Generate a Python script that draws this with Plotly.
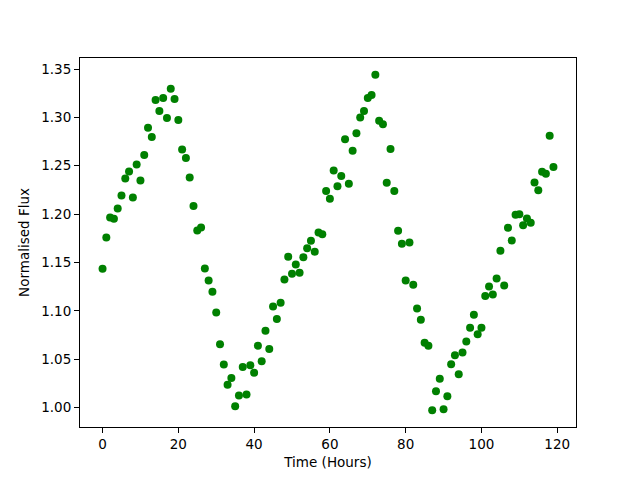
import plotly.graph_objects as go

hours = list(range(120))
flux = [
    1.1435, 1.1758, 1.1965, 1.1951, 1.2058, 1.2192, 1.2367, 1.2440, 1.2171, 1.2512,
    1.2347, 1.2612, 1.2894, 1.2798, 1.3180, 1.3066, 1.3200, 1.2994, 1.3297, 1.3190,
    1.2973, 1.2667, 1.2581, 1.2378, 1.2085, 1.1830, 1.1861, 1.1438, 1.1314, 1.1198,
    1.0984, 1.0654, 1.0444, 1.0237, 1.0306, 1.0013, 1.0124, 1.0419, 1.0134, 1.0437,
    1.0361, 1.0640, 1.0478, 1.0795, 1.0605, 1.1046, 1.0915, 1.1084, 1.1325, 1.1559,
    1.1383, 1.1479, 1.1394, 1.1555, 1.1648, 1.1724, 1.1611, 1.1810, 1.1792, 1.2240,
    1.2158, 1.2450, 1.2288, 1.2395, 1.2773, 1.2313, 1.2656, 1.2835, 1.3000, 1.3066,
    1.3200, 1.3231, 1.3441, 1.2966, 1.2930, 1.2323, 1.2674, 1.2240, 1.1827, 1.1693,
    1.1314, 1.1707, 1.1270, 1.1025, 1.0909, 1.0671, 1.0640, 0.9972, 1.0168, 1.0299,
    0.9982, 1.0117, 1.0447, 1.0540, 1.0344, 1.0568, 1.0684, 1.0826, 1.0960, 1.0757,
    1.0826, 1.1154, 1.1252, 1.1170, 1.1335, 1.1621, 1.1263, 1.1858, 1.1727, 1.1993,
    1.1999, 1.1885, 1.1954, 1.1910, 1.2326, 1.2247, 1.2437, 1.2416, 1.2811, 1.2488,
]
x_ticks = [0, 20, 40, 60, 80, 100, 120]
y_ticks = [1.00, 1.05, 1.10, 1.15, 1.20, 1.25, 1.30, 1.35]

fig = go.Figure(
    go.Scatter(
        x=hours, y=flux, mode="markers",
        marker=dict(color="#008000", size=8, line=dict(width=0)),
    )
)

axis_common = dict(
    showline=True, mirror=True, linecolor="black", linewidth=1,
    ticks="outside", ticklen=5, tickcolor="black", tickwidth=1,
    showgrid=False, zeroline=False,
    tickfont=dict(family="DejaVu Sans", size=13.5, color="black"),
)

fig.update_layout(
    width=632, height=472,
    margin=dict(l=72, r=64, t=50, b=53),
    paper_bgcolor="white", plot_bgcolor="white",
    showlegend=False,
    font=dict(family="DejaVu Sans", size=13.5, color="black"),
    xaxis=dict(
        range=[-5.95, 124.95], tickvals=x_ticks,
        title=dict(text="Time (Hours)", font=dict(size=13.5), standoff=6),
        **axis_common,
    ),
    yaxis=dict(
        range=[0.9799, 1.3614], tickvals=y_ticks, tickformat=".2f",
        title=dict(text="Normalised Flux", font=dict(size=13.5), standoff=8),
        **axis_common,
    ),
)

fig.write_html("out.html")
